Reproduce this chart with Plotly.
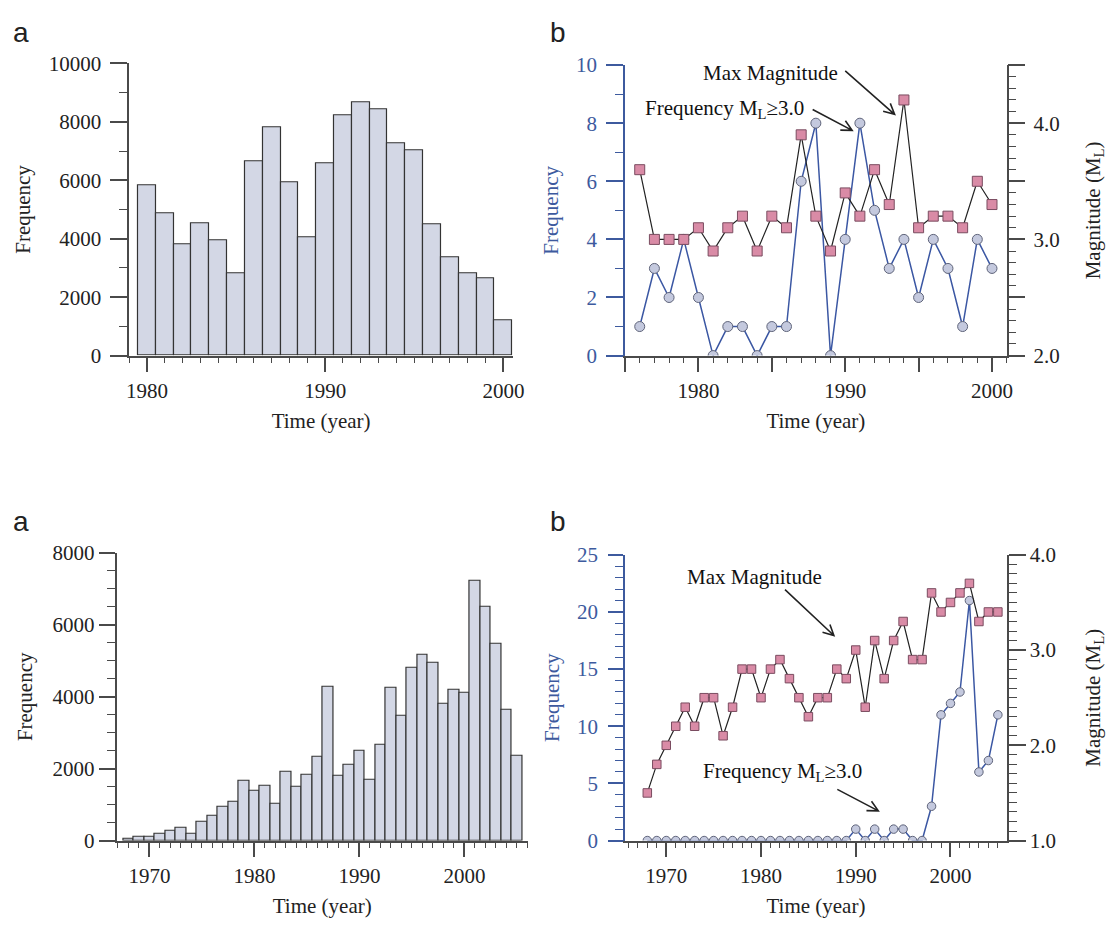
import math
import plotly.graph_objects as go

# ---------------- data ----------------
hist1_years = list(range(1980, 2001))
hist1_freq = [5840, 4880, 3820, 4530, 3960, 2800, 6660, 7820, 5930, 4040, 6590,
              8220, 8680, 8440, 7270, 7040, 4490, 3360, 2820, 2640, 1210]

b1_years = list(range(1976, 2001))
b1_freq = [1, 3, 2, 4, 2, 0, 1, 1, 0, 1, 1, 6, 8, 0, 4, 8, 5, 3, 4, 2, 4, 3, 1, 4, 3]
b1_mag = [3.6, 3.0, 3.0, 3.0, 3.1, 2.9, 3.1, 3.2, 2.9, 3.2, 3.1, 3.9, 3.2, 2.9, 3.4,
          3.2, 3.6, 3.3, 4.2, 3.1, 3.2, 3.2, 3.1, 3.5, 3.3]

hist2_years = list(range(1968, 2006))
hist2_freq = [40, 110, 110, 180, 280, 360, 200, 520, 680, 930, 1080, 1670, 1400, 1520,
              1030, 1920, 1510, 1840, 2340, 4270, 1790, 2120, 2510, 1700, 2670, 4240,
              3480, 4810, 5170, 4940, 3790, 4190, 4110, 7220, 6510, 5460, 3630, 2350]

b2_years = list(range(1968, 2006))
b2_freq = [0, 0, 0, 0, 0, 0, 0, 0, 0, 0, 0, 0, 0, 0, 0, 0, 0, 0, 0, 0, 0, 0,
           1, 0, 1, 0, 1, 1, 0, 0, 3, 11, 12, 13, 21, 6, 7, 11]
b2_mag = [1.5, 1.8, 2.0, 2.2, 2.4, 2.2, 2.5, 2.5, 2.1, 2.4, 2.8, 2.8, 2.5, 2.8, 2.9,
          2.7, 2.5, 2.3, 2.5, 2.5, 2.8, 2.7, 3.0, 2.4, 3.1, 2.7, 3.1, 3.3, 2.9, 2.9,
          3.6, 3.4, 3.5, 3.6, 3.7, 3.3, 3.4, 3.4]

# tick labels
year_ticks_top = [1980, 1990, 2000]
year_ticks_top_mid = [1975, 1985, 1995]
year_ticks_bottom = [1970, 1980, 1990, 2000]
mag_ticks_top = [2.0, 3.0, 4.0]
mag_ticks_top_mid = [2.5, 3.5, 4.5]
mag_ticks_bottom = [1.0, 2.0, 3.0, 4.0]

# ---------------- style ----------------
W, H = 1109, 930
SERIF = "Liberation Serif"
FS = 21
AX = "#4a4a4a"
BLUE = "#3d5a9e"
BAR_FILL = "#d3d7e5"
CIRC_FILL = "#c4c9de"
CIRC_LINE = "#5f647a"
SQ_FILL = "#d98ba6"
SQ_LINE = "#7a4c60"
BLUE_LINE = "#3b57a3"
TICKF = dict(family=SERIF, size=FS, color="#222")
TITLEF = dict(family=SERIF, size=FS, color="#222")


def px(x):
    return x / W


def py(y):
    return 1 - y / H


fig = go.Figure()

# ---- panel a (top) ----
fig.add_trace(go.Bar(x=hist1_years, y=hist1_freq, width=1, xaxis="x", yaxis="y",
                     marker=dict(color=BAR_FILL, line=dict(color="#333", width=1.2)),
                     showlegend=False))
# ---- panel b (top) ----
fig.add_trace(go.Scatter(x=b1_years, y=b1_freq, xaxis="x2", yaxis="y2", mode="lines+markers",
                         line=dict(color=BLUE_LINE, width=1.5),
                         marker=dict(symbol="circle", size=10, color=CIRC_FILL,
                                     line=dict(color=CIRC_LINE, width=1)),
                         showlegend=False))
fig.add_trace(go.Scatter(x=b1_years, y=b1_mag, xaxis="x2", yaxis="y3", mode="lines+markers",
                         line=dict(color="#222", width=1.2),
                         marker=dict(symbol="square", size=10, color=SQ_FILL,
                                     line=dict(color=SQ_LINE, width=1)),
                         showlegend=False))
# ---- panel a (bottom) ----
fig.add_trace(go.Bar(x=hist2_years, y=hist2_freq, width=1, xaxis="x3", yaxis="y4",
                     marker=dict(color=BAR_FILL, line=dict(color="#333", width=1.2)),
                     showlegend=False))
# ---- panel b (bottom) ----
fig.add_trace(go.Scatter(x=b2_years, y=b2_freq, xaxis="x4", yaxis="y5", mode="lines+markers",
                         line=dict(color=BLUE_LINE, width=1.5),
                         marker=dict(symbol="circle", size=8.5, color=CIRC_FILL,
                                     line=dict(color=CIRC_LINE, width=1)),
                         showlegend=False))
fig.add_trace(go.Scatter(x=b2_years, y=b2_mag, xaxis="x4", yaxis="y6", mode="lines+markers",
                         line=dict(color="#222", width=1.2),
                         marker=dict(symbol="square", size=8.5, color=SQ_FILL,
                                     line=dict(color=SQ_LINE, width=1)),
                         showlegend=False))
# invisible helper traces so the extra (label-less) tick axes of panel b (top) render
fig.add_trace(go.Scatter(x=b1_years, y=b1_freq, xaxis="x5", yaxis="y2", mode="lines",
                         line=dict(width=0, color="rgba(0,0,0,0)"), hoverinfo="skip",
                         showlegend=False))
fig.add_trace(go.Scatter(x=b1_years, y=b1_mag, xaxis="x2", yaxis="y7", mode="lines",
                         line=dict(width=0, color="rgba(0,0,0,0)"), hoverinfo="skip",
                         showlegend=False))


def xax(domain, rng, anchor, tickvals, title="Time (year)"):
    return dict(domain=domain, range=rng, anchor=anchor, showgrid=False, zeroline=False,
                showline=True, linecolor=AX, linewidth=1.5, ticks="outside", ticklen=15,
                tickwidth=1.5, tickcolor=AX, tickvals=tickvals, tickfont=TICKF,
                minor=dict(dtick=1, tick0=1960, ticklen=6, tickwidth=1.2, tickcolor=AX,
                           ticks="outside"),
                title=dict(text=title, font=TITLEF, standoff=12))


def yax(domain, rng, anchor, dtick, minor, color=AX, fcolor="#222", side="left",
        overlaying=None, tickvals=None, ticktext=None, title="Frequency", standoff=14,
        ticklen=17, labelgap=0):
    d = dict(domain=domain, range=rng, anchor=anchor, side=side, showgrid=False,
             zeroline=False, showline=True, linecolor=color, linewidth=1.5,
             ticks="outside", ticklen=ticklen, tickwidth=1.5, tickcolor=color,
             ticklabelstandoff=labelgap,
             tickfont=dict(family=SERIF, size=FS, color=fcolor), tickformat="d",
             minor=dict(dtick=minor, tick0=0, ticklen=8, tickwidth=1.2, tickcolor=color,
                        ticks="outside"),
             title=dict(text=title, font=dict(family=SERIF, size=FS, color=fcolor),
                        standoff=standoff))
    if tickvals is not None:
        d["tickvals"] = tickvals
        d["ticktext"] = ticktext
        d.pop("tickformat")
    else:
        d["dtick"] = dtick
        d["tick0"] = 0
    if overlaying:
        d["overlaying"] = overlaying
    return d


dom_x2 = [px(630), px(1016.5)]
dom_y2 = [py(352.7), py(54.5)]

layout = dict(
    width=W, height=H, margin=dict(l=0, r=0, t=0, b=0),
    paper_bgcolor="white", plot_bgcolor="white", bargap=0,
    xaxis=xax([px(127.7), px(516.7)], [1979.0, 2000.55], "y", year_ticks_top),
    yaxis=yax([py(352.7), py(52.7)], [0, 10000], "x", 2000, 1000, labelgap=5, standoff=12),
    xaxis2=xax(dom_x2, [1975, 2001], "y2", year_ticks_top),
    yaxis2=yax(dom_y2, [0, 10], "x2", 2, 1, color=BLUE, fcolor=BLUE, labelgap=5, standoff=12),
    yaxis3=yax(dom_y2, [2.0, 4.5], "x2", None, 0.1, side="right",
               overlaying="y2", tickvals=mag_ticks_top,
               ticktext=[f"{v:.1f}" for v in mag_ticks_top],
               title="Magnitude (M<sub>L</sub>)", standoff=26, labelgap=4),
    # label-less long ticks at the half marks of panel b (top)
    xaxis5=dict(domain=dom_x2, range=[1975, 2001], anchor="y2", overlaying="x2",
                showgrid=False, zeroline=False, showline=False, ticks="outside",
                ticklen=15, tickwidth=1.5, tickcolor=AX, tickvals=year_ticks_top_mid,
                showticklabels=False),
    yaxis7=dict(domain=dom_y2, range=[2.0, 4.5], anchor="x2", overlaying="y2", side="right",
                showgrid=False, zeroline=False, showline=False, ticks="outside",
                ticklen=17, tickwidth=1.5, tickcolor=AX, tickvals=mag_ticks_top_mid,
                showticklabels=False),
    xaxis3=xax([px(115), px(531.7)], [1966.87, 2006.05], "y4", year_ticks_bottom),
    yaxis4=yax([py(850.7), py(555.2)], [0, 8000], "x3", 2000, 500, ticklen=16),
    xaxis4=xax([px(630), px(1016.7)], [1965.65, 2005.95], "y5", year_ticks_bottom),
    yaxis5=yax([py(850.5), py(557.2)], [0, 25], "x4", 5, 1, color=BLUE, fcolor=BLUE,
               ticklen=15, labelgap=6, standoff=12),
    yaxis6=yax([py(850.5), py(557.2)], [1.0, 4.0], "x4", None, 0.1, side="right",
               overlaying="y5", tickvals=mag_ticks_bottom,
               ticktext=[f"{v:.1f}" for v in mag_ticks_bottom],
               title="Magnitude (M<sub>L</sub>)", standoff=30),
)
fig.update_layout(**layout)

# ---- annotations: panel letters and labels ----
annos = []
for lab, x, y in [("a", 18, 21), ("b", 562, 21), ("a", 18, 523), ("b", 562, 523)]:
    annos.append(dict(text=lab, x=px(x), y=py(y), xref="paper", yref="paper",
                      showarrow=False, xanchor="center", yanchor="middle",
                      font=dict(family="Liberation Sans", size=28, color="#222")))
for txt, x, y in [("Max Magnitude", 777, 63), ("Frequency M<sub>L</sub>≥3.0", 731, 100),
                  ("Max Magnitude", 761, 580), ("Frequency M<sub>L</sub>≥3.0", 789, 780)]:
    annos.append(dict(text=txt, x=px(x), y=py(y), xref="paper", yref="paper",
                      showarrow=False, xanchor="center", yanchor="middle",
                      font=dict(family=SERIF, size=FS, color="#111")))
fig.update_layout(annotations=annos)

# ---- arrows (open V heads) ----
shapes = []
for (x0, y0, x1, y1) in [(853, 60.5, 903, 105), (820, 100, 860, 121.5),
                         (792, 593, 841.5, 640), (845, 798, 886.5, 820)]:
    dx, dy = x1 - x0, y1 - y0
    L = math.hypot(dx, dy)
    ux, uy = dx / L, dy / L
    hl, ang = 12, math.radians(27)
    pts = []
    for s in (1, -1):
        c, si = math.cos(s * ang), math.sin(s * ang)
        rx, ry = ux * c - uy * si, ux * si + uy * c
        pts.append((x1 - hl * rx, y1 - hl * ry))
    path = (f"M {px(x0)},{py(y0)} L {px(x1)},{py(y1)} "
            f"M {px(pts[0][0])},{py(pts[0][1])} L {px(x1)},{py(y1)} L {px(pts[1][0])},{py(pts[1][1])}")
    shapes.append(dict(type="path", path=path, xref="paper", yref="paper",
                       line=dict(color="#222", width=1.6)))
fig.update_layout(shapes=shapes)

fig.write_html("out.html", config={"displayModeBar": False},
               post_script="document.body.style.margin='0';document.body.style.overflow='hidden';")
